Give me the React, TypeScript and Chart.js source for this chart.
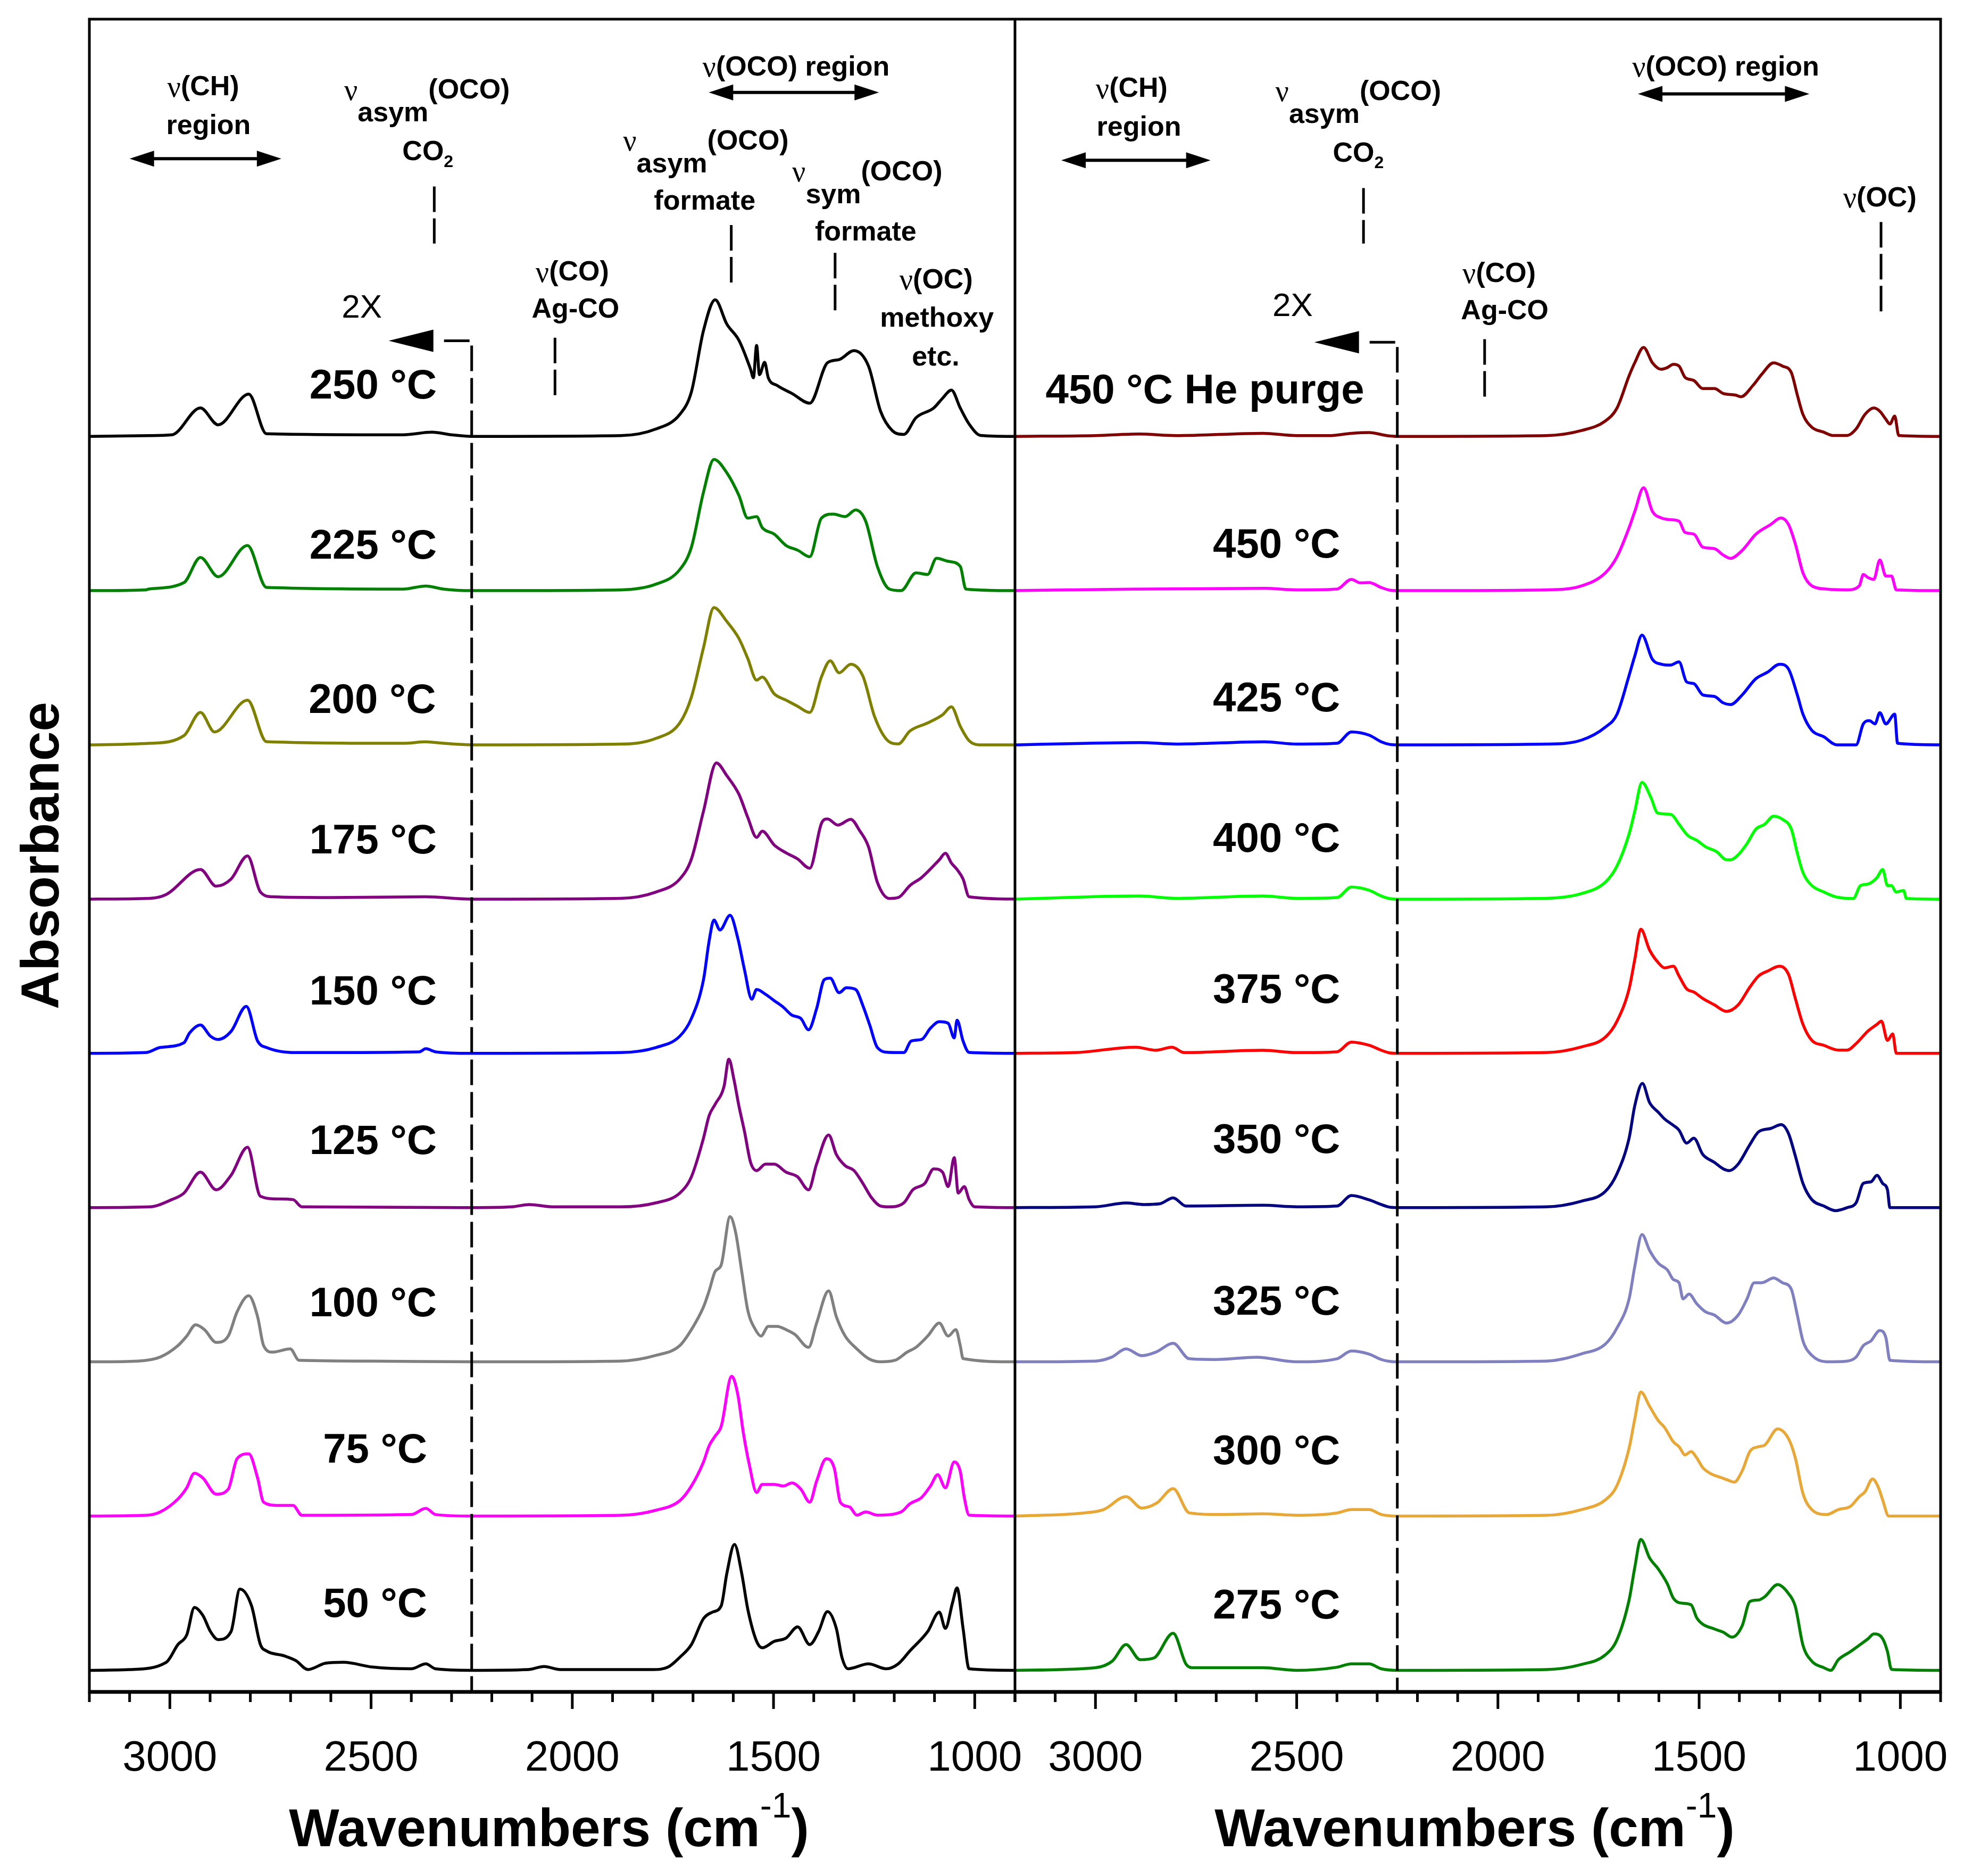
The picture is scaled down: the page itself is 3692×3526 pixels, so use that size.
import { useEffect, useRef } from 'react';
import { Chart } from 'chart.js/auto';

const FONT = "'Liberation Sans', Arial, sans-serif";
const SERIF = "'Liberation Serif', 'Times New Roman', serif";

// [wavenumber (cm-1), absorbance above own baseline]; one unit = spacing between stacked spectra
const T50: [number, number][] = [[3200,0],[3100,0.005],[3009,0.052],[2980,0.167],[2958,0.23],[2939,0.408],[2918,0.356],[2899,0.251],[2880,0.199],[2848,0.251],[2826,0.527],[2797,0.418],[2775,0.167],[2760,0.126],[2716,0.094],[2687,0.063],[2657,0.005],[2613,0.046],[2569,0.052],[2496,0.021],[2400,0.01],[2364,0.042],[2340,0.01],[2250,0],[2110,0.005],[2070,0.025],[2030,0.005],[1800,0.005],[1762,0.021],[1733,0.084],[1704,0.167],[1674,0.335],[1652,0.377],[1630,0.418],[1616,0.628],[1597,0.816],[1579,0.628],[1564,0.397],[1542,0.188],[1528,0.146],[1498,0.188],[1469,0.209],[1440,0.282],[1410,0.167],[1388,0.251],[1366,0.381],[1344,0.272],[1330,0.084],[1315,0.01],[1264,0.042],[1220,0.01],[1190,0.042],[1161,0.126],[1117,0.251],[1088,0.377],[1073,0.272],[1055,0.44],[1044,0.534],[1029,0.272],[1014,0.01],[900,0]];
const T75: [number, number][] = [[3200,0],[3060,0.005],[3024,0.027],[2980,0.111],[2958,0.184],[2939,0.278],[2918,0.247],[2885,0.142],[2855,0.174],[2833,0.372],[2804,0.404],[2782,0.247],[2767,0.09],[2731,0.069],[2694,0.069],[2672,0.005],[2400,0.01],[2364,0.05],[2340,0.01],[2250,0],[1880,0.005],[1792,0.038],[1733,0.1],[1704,0.195],[1674,0.351],[1660,0.456],[1645,0.519],[1630,0.582],[1604,0.906],[1589,0.791],[1575,0.54],[1560,0.331],[1542,0.153],[1528,0.205],[1498,0.205],[1476,0.195],[1454,0.215],[1432,0.174],[1410,0.09],[1393,0.226],[1369,0.372],[1349,0.31],[1334,0.09],[1311,0.059],[1293,0.006],[1271,0.027],[1242,0.006],[1183,0.027],[1161,0.08],[1132,0.121],[1110,0.195],[1092,0.268],[1073,0.184],[1051,0.351],[1036,0.289],[1026,0.121],[1014,0.006],[900,0]];
const T100: [number, number][] = [[3200,0],[3080,0.005],[3024,0.031],[2980,0.105],[2958,0.167],[2936,0.24],[2914,0.209],[2885,0.126],[2855,0.167],[2833,0.324],[2804,0.429],[2782,0.293],[2767,0.105],[2745,0.063],[2701,0.084],[2679,0.01],[2500,0.005],[2250,0],[1880,0.005],[1792,0.042],[1733,0.105],[1704,0.209],[1674,0.356],[1660,0.46],[1645,0.586],[1630,0.628],[1608,0.941],[1594,0.837],[1579,0.586],[1564,0.335],[1545,0.209],[1531,0.167],[1513,0.23],[1491,0.23],[1469,0.209],[1447,0.178],[1413,0.094],[1393,0.251],[1363,0.46],[1344,0.293],[1322,0.167],[1293,0.084],[1264,0.021],[1234,0],[1198,0.01],[1168,0.063],[1146,0.094],[1117,0.167],[1088,0.251],[1066,0.167],[1047,0.209],[1036,0.105],[1029,0.021],[900,0]];
const T125: [number, number][] = [[3200,0],[3050,0.005],[2995,0.052],[2965,0.094],[2924,0.23],[2885,0.115],[2848,0.209],[2807,0.391],[2775,0.073],[2731,0.056],[2694,0.052],[2672,0.005],[2250,0],[2150,0.005],[2107,0.02],[2050,0.005],[1880,0.005],[1792,0.031],[1733,0.094],[1704,0.2],[1674,0.45],[1660,0.596],[1645,0.67],[1623,0.785],[1611,0.962],[1598,0.826],[1586,0.659],[1572,0.492],[1557,0.293],[1542,0.24],[1520,0.282],[1498,0.282],[1469,0.23],[1440,0.199],[1413,0.115],[1393,0.282],[1363,0.471],[1344,0.345],[1322,0.272],[1300,0.24],[1278,0.157],[1256,0.063],[1234,0.01],[1212,0.005],[1176,0.031],[1154,0.115],[1124,0.157],[1102,0.251],[1080,0.23],[1066,0.136],[1051,0.324],[1041,0.094],[1026,0.136],[1014,0.052],[1000,0.005],[900,0]];
const T150: [number, number][] = [[3200,0],[3060,0.005],[3024,0.038],[2965,0.069],[2951,0.132],[2924,0.184],[2899,0.111],[2880,0.09],[2848,0.142],[2810,0.305],[2782,0.08],[2760,0.038],[2672,0.005],[2380,0.01],[2364,0.03],[2340,0.01],[2250,0],[1880,0.005],[1792,0.038],[1733,0.111],[1704,0.226],[1674,0.477],[1660,0.728],[1648,0.864],[1633,0.8],[1608,0.895],[1589,0.749],[1572,0.54],[1554,0.351],[1542,0.414],[1520,0.383],[1498,0.341],[1476,0.3],[1454,0.247],[1432,0.226],[1413,0.153],[1393,0.289],[1374,0.477],[1359,0.487],[1337,0.393],[1319,0.425],[1296,0.414],[1278,0.31],[1261,0.184],[1242,0.038],[1212,0.006],[1176,0.005],[1158,0.08],[1132,0.09],[1110,0.163],[1088,0.205],[1066,0.195],[1051,0.1],[1044,0.215],[1029,0.08],[1014,0.006],[900,0]];
const T175: [number, number][] = [[3200,0],[3050,0.005],[3009,0.03],[2924,0.192],[2885,0.084],[2848,0.13],[2807,0.28],[2775,0.046],[2745,0.015],[2600,0.01],[2364,0.015],[2250,0],[1880,0.005],[1792,0.046],[1733,0.13],[1704,0.26],[1674,0.57],[1642,0.883],[1616,0.8],[1586,0.68],[1564,0.53],[1542,0.4],[1528,0.44],[1498,0.35],[1469,0.3],[1440,0.26],[1410,0.2],[1381,0.49],[1366,0.52],[1340,0.48],[1308,0.517],[1286,0.444],[1264,0.339],[1242,0.109],[1212,0.004],[1190,0.01],[1161,0.088],[1132,0.14],[1088,0.255],[1073,0.297],[1058,0.234],[1044,0.192],[1029,0.13],[1014,0.015],[900,0]];
const T200: [number, number][] = [[3200,0],[3050,0.01],[2965,0.06],[2924,0.21],[2889,0.084],[2807,0.29],[2760,0.021],[2420,0.01],[2364,0.02],[2320,0.01],[2250,0],[1880,0.005],[1792,0.042],[1733,0.142],[1704,0.31],[1674,0.63],[1648,0.89],[1616,0.8],[1586,0.69],[1564,0.56],[1542,0.42],[1528,0.44],[1498,0.33],[1469,0.29],[1440,0.25],[1410,0.21],[1381,0.44],[1359,0.545],[1337,0.467],[1308,0.523],[1278,0.446],[1249,0.184],[1220,0.038],[1190,0.006],[1161,0.09],[1117,0.142],[1080,0.195],[1058,0.247],[1036,0.121],[1014,0.027],[990,0],[900,0]];
const T225: [number, number][] = [[3200,0],[3060,0.005],[3053,0.01],[2965,0.052],[2924,0.215],[2880,0.09],[2807,0.293],[2760,0.021],[2420,0.01],[2364,0.03],[2320,0.01],[2250,0],[1880,0.005],[1792,0.042],[1733,0.136],[1704,0.282],[1674,0.638],[1648,0.851],[1616,0.764],[1586,0.617],[1564,0.47],[1542,0.48],[1528,0.408],[1498,0.366],[1469,0.293],[1440,0.262],[1410,0.22],[1381,0.47],[1352,0.496],[1322,0.48],[1296,0.523],[1271,0.45],[1242,0.157],[1212,0.01],[1183,0],[1146,0.115],[1117,0.105],[1095,0.21],[1066,0.19],[1036,0.157],[1022,0.01],[900,0]];
const T250: [number, number][] = [[3200,0],[3050,0.005],[2995,0.01],[2924,0.184],[2880,0.075],[2804,0.274],[2760,0.017],[2420,0.01],[2349,0.027],[2300,0.01],[2250,0],[1880,0.005],[1792,0.048],[1733,0.142],[1704,0.289],[1674,0.686],[1645,0.885],[1616,0.728],[1586,0.623],[1557,0.435],[1550,0.38],[1542,0.59],[1535,0.4],[1522,0.48],[1513,0.38],[1491,0.33],[1454,0.278],[1410,0.215],[1366,0.477],[1337,0.498],[1300,0.556],[1264,0.456],[1234,0.163],[1205,0.038],[1176,0.013],[1146,0.121],[1102,0.184],[1080,0.247],[1058,0.3],[1036,0.184],[1014,0.08],[985,0.006],[900,0]];

const T275: [number, number][] = [[3200,0],[3000,0.017],[2958,0.06],[2924,0.167],[2889,0.069],[2855,0.08],[2807,0.24],[2775,0.04],[2760,0.017],[2584,0.017],[2500,0],[2400,0.02],[2364,0.042],[2320,0.042],[2290,0.01],[2250,0],[1880,0.005],[1792,0.038],[1733,0.1],[1704,0.199],[1674,0.456],[1660,0.665],[1645,0.849],[1623,0.728],[1601,0.655],[1579,0.561],[1564,0.467],[1542,0.435],[1520,0.425],[1506,0.341],[1491,0.299],[1462,0.268],[1440,0.247],[1418,0.215],[1393,0.289],[1374,0.446],[1352,0.456],[1337,0.477],[1305,0.556],[1278,0.498],[1261,0.414],[1242,0.163],[1220,0.059],[1190,0.017],[1173,0],[1154,0.069],[1124,0.121],[1102,0.163],[1080,0.205],[1066,0.236],[1044,0.205],[1032,0.121],[1022,0.006],[900,0]];
const T300: [number, number][] = [[3200,0],[3030,0.02],[2980,0.042],[2924,0.126],[2885,0.052],[2848,0.084],[2807,0.178],[2767,0.021],[2700,0.01],[2584,0.015],[2500,0.005],[2400,0.02],[2364,0.042],[2320,0.042],[2290,0.01],[2250,0],[1880,0.005],[1792,0.042],[1733,0.105],[1704,0.199],[1674,0.44],[1660,0.628],[1645,0.805],[1623,0.711],[1601,0.617],[1586,0.575],[1564,0.481],[1550,0.45],[1535,0.397],[1520,0.418],[1506,0.377],[1491,0.314],[1469,0.272],[1447,0.251],[1425,0.23],[1413,0.22],[1393,0.293],[1374,0.418],[1352,0.45],[1337,0.46],[1305,0.565],[1278,0.502],[1261,0.377],[1242,0.146],[1220,0.042],[1183,0.01],[1154,0.042],[1124,0.063],[1102,0.126],[1088,0.157],[1069,0.241],[1055,0.188],[1044,0.105],[1029,0],[900,0]];
const T325: [number, number][] = [[3200,0],[3000,0.005],[2960,0.03],[2924,0.084],[2885,0.04],[2850,0.063],[2807,0.12],[2767,0.02],[2700,0.015],[2600,0.03],[2500,0],[2400,0.02],[2364,0.07],[2320,0.05],[2290,0.015],[2269,0.003],[2250,0],[1880,0.005],[1792,0.052],[1733,0.115],[1704,0.22],[1674,0.408],[1660,0.617],[1642,0.826],[1623,0.722],[1601,0.638],[1579,0.596],[1564,0.533],[1550,0.513],[1540,0.408],[1525,0.439],[1506,0.377],[1484,0.324],[1462,0.303],[1432,0.251],[1403,0.303],[1381,0.408],[1363,0.513],[1344,0.513],[1315,0.544],[1293,0.513],[1271,0.471],[1256,0.303],[1242,0.136],[1220,0.042],[1183,0],[1132,0.005],[1110,0.031],[1092,0.105],[1073,0.136],[1051,0.203],[1036,0.157],[1026,0.01],[900,0]];
const T350: [number, number][] = [[3200,0],[3000,0.005],[2924,0.03],[2880,0.02],[2840,0.025],[2807,0.063],[2775,0.01],[2584,0.015],[2500,0.005],[2400,0.01],[2364,0.078],[2320,0.05],[2290,0.02],[2269,0.003],[2250,0],[1880,0.005],[1792,0.042],[1733,0.105],[1704,0.22],[1674,0.45],[1660,0.659],[1641,0.805],[1623,0.68],[1601,0.617],[1586,0.575],[1564,0.533],[1550,0.502],[1531,0.418],[1513,0.45],[1491,0.345],[1462,0.293],[1440,0.251],[1425,0.24],[1403,0.282],[1374,0.408],[1352,0.492],[1322,0.513],[1296,0.538],[1278,0.481],[1261,0.335],[1242,0.157],[1220,0.052],[1190,0.01],[1161,-0.02],[1132,0],[1110,0.031],[1092,0.157],[1073,0.167],[1058,0.209],[1044,0.157],[1032,0.115],[1026,0],[900,0]];
const T375: [number, number][] = [[3200,0],[3050,0.005],[2900,0.04],[2850,0.02],[2810,0.04],[2780,0.005],[2584,0.02],[2500,0.005],[2400,0.01],[2364,0.073],[2320,0.052],[2290,0.02],[2269,0.003],[2250,0],[1880,0.005],[1792,0.042],[1733,0.105],[1704,0.209],[1674,0.418],[1660,0.607],[1645,0.805],[1623,0.669],[1601,0.586],[1586,0.554],[1564,0.565],[1550,0.502],[1531,0.418],[1513,0.397],[1491,0.356],[1462,0.314],[1432,0.272],[1403,0.314],[1374,0.429],[1352,0.502],[1330,0.533],[1300,0.565],[1278,0.513],[1261,0.356],[1242,0.188],[1220,0.084],[1190,0.052],[1154,0.021],[1132,0.021],[1110,0.063],[1080,0.146],[1058,0.188],[1047,0.209],[1032,0.084],[1019,0.126],[1010,0],[900,0]];
const T400: [number, number][] = [[3200,0],[2890,0.02],[2800,0.005],[2584,0.02],[2500,0.005],[2400,0.01],[2364,0.078],[2320,0.057],[2290,0.02],[2269,0.003],[2250,0],[1880,0.005],[1792,0.036],[1733,0.11],[1704,0.215],[1674,0.423],[1660,0.569],[1642,0.757],[1619,0.653],[1604,0.559],[1586,0.552],[1569,0.548],[1550,0.485],[1528,0.412],[1506,0.381],[1484,0.339],[1457,0.308],[1432,0.255],[1422,0.255],[1403,0.287],[1381,0.36],[1359,0.454],[1337,0.485],[1315,0.538],[1293,0.517],[1271,0.454],[1256,0.297],[1242,0.172],[1220,0.088],[1190,0.046],[1161,0.015],[1117,0.004],[1099,0.088],[1080,0.098],[1058,0.14],[1044,0.192],[1032,0.088],[1022,0.088],[1011,0.046],[992,0.056],[985,0.004],[900,0]];
const T425: [number, number][] = [[3200,0],[2890,0.015],[2800,0.005],[2580,0.02],[2500,0.005],[2400,0.01],[2364,0.084],[2320,0.063],[2290,0.02],[2269,0.003],[2250,0],[1880,0.005],[1792,0.031],[1733,0.115],[1704,0.199],[1674,0.45],[1660,0.575],[1642,0.711],[1616,0.554],[1594,0.523],[1572,0.517],[1550,0.538],[1531,0.408],[1513,0.397],[1491,0.324],[1462,0.314],[1440,0.272],[1422,0.261],[1393,0.324],[1359,0.429],[1330,0.471],[1300,0.523],[1278,0.492],[1256,0.324],[1242,0.199],[1220,0.094],[1190,0.052],[1158,0],[1110,0],[1092,0.136],[1077,0.157],[1063,0.136],[1051,0.209],[1036,0.136],[1014,0.199],[1007,0.01],[900,0]];
const T450: [number, number][] = [[3200,0],[2900,0.01],[2580,0.015],[2500,0.005],[2400,0.01],[2364,0.073],[2342,0.05],[2320,0.052],[2290,0.02],[2269,0.003],[2250,0],[1880,0.005],[1792,0.031],[1733,0.115],[1704,0.22],[1674,0.408],[1660,0.513],[1638,0.667],[1616,0.513],[1594,0.471],[1572,0.46],[1550,0.45],[1535,0.377],[1513,0.366],[1491,0.282],[1462,0.272],[1440,0.23],[1422,0.209],[1393,0.261],[1359,0.366],[1322,0.429],[1297,0.471],[1278,0.429],[1261,0.303],[1242,0.115],[1220,0.031],[1183,0.01],[1132,0.005],[1102,0.031],[1092,0.105],[1080,0.084],[1066,0.073],[1051,0.199],[1036,0.094],[1022,0.094],[1010,0.005],[900,0]];
const T450HE: [number, number][] = [[3200,0],[3000,0.005],[2892,0.015],[2800,0.005],[2584,0.02],[2500,0.005],[2420,0.005],[2364,0.02],[2320,0.025],[2276,0.005],[2250,0],[1880,0.005],[1792,0.038],[1733,0.1],[1704,0.184],[1674,0.393],[1660,0.477],[1638,0.577],[1616,0.477],[1594,0.435],[1579,0.446],[1564,0.467],[1550,0.456],[1535,0.383],[1513,0.362],[1491,0.31],[1462,0.31],[1440,0.278],[1410,0.268],[1396,0.257],[1366,0.331],[1344,0.404],[1315,0.477],[1293,0.456],[1271,0.414],[1256,0.268],[1242,0.142],[1220,0.059],[1190,0.027],[1168,0.006],[1132,0.006],[1110,0.048],[1088,0.142],[1066,0.184],[1051,0.163],[1036,0.111],[1026,0.08],[1014,0.132],[1004,0.006],[900,0]];

// stacking order: bottom to top
const LEFT_SERIES = [T50, T75, T100, T125, T150, T175, T200, T225, T250];
const LEFT_NAMES = ['50 °C', '75 °C', '100 °C', '125 °C', '150 °C', '175 °C', '200 °C', '225 °C', '250 °C'];
const LEFT_COLORS = ['#000000', '#ff00ff', '#808080', '#800080', '#0000ff', '#800080', '#808000', '#008000', '#000000'];
const RIGHT_SERIES = [T275, T300, T325, T350, T375, T400, T425, T450, T450HE];
const RIGHT_NAMES = ['275 °C', '300 °C', '325 °C', '350 °C', '375 °C', '400 °C', '425 °C', '450 °C', '450 °C He purge'];
const RIGHT_COLORS = ['#008000', '#e8a838', '#8080c0', '#000080', '#ff0000', '#00ff00', '#0000ff', '#ff00ff', '#800000'];
const OFFSETS = [0.14, 1.14, 2.14, 3.14, 4.14, 5.14, 6.14, 7.14, 8.14];

// label anchors [wavenumber, y]
const LEFT_LABEL_POS: [number, number][] = [[2490, 0.56], [2490, 1.56], [2495, 2.51], [2495, 3.56], [2495, 4.53], [2495, 5.51], [2497, 6.42], [2495, 7.42], [2495, 8.46]];
const RIGHT_LABEL_POS: [number, number][] = [[2550, 0.55], [2550, 1.55], [2550, 2.52], [2550, 3.57], [2550, 4.54], [2550, 5.52], [2550, 6.43], [2550, 7.43], [2728, 8.43]];

const X_MIN = 900;
const X_MAX = 3200;
const X_TICKS = [3000, 2500, 2000, 1500, 1000];
const Y_MAX = 10.845;
const SCALE_2X = 2250;

type Part = { t: string; sub?: boolean; tiny?: boolean; greek?: boolean };
type Note = { axis: string; w: number; y: number; parts: Part[] };
const NU: Part = { t: 'ν', greek: true };
const NOTES: Note[] = [
  { axis: 'x1', w: 2917, y: 10.40, parts: [NU, { t: '(CH)' }] },
  { axis: 'x1', w: 2904, y: 10.15, parts: [{ t: 'region' }] },
  { axis: 'x1', w: 2361, y: 10.38, parts: [NU, { t: 'asym', sub: true }, { t: '(OCO)' }] },
  { axis: 'x1', w: 2359, y: 9.98, parts: [{ t: 'CO' }, { t: '2', tiny: true }] },
  { axis: 'x1', w: 1444, y: 10.53, parts: [NU, { t: '(OCO) region' }] },
  { axis: 'x1', w: 1668, y: 10.05, parts: [NU, { t: 'asym', sub: true }, { t: '(OCO)' }] },
  { axis: 'x1', w: 1671, y: 9.66, parts: [{ t: 'formate' }] },
  { axis: 'x1', w: 1267, y: 9.85, parts: [NU, { t: 'sym', sub: true }, { t: '(OCO)' }] },
  { axis: 'x1', w: 1271, y: 9.46, parts: [{ t: 'formate' }] },
  { axis: 'x1', w: 2000, y: 9.20, parts: [NU, { t: '(CO)' }] },
  { axis: 'x1', w: 1992, y: 8.96, parts: [{ t: 'Ag-CO' }] },
  { axis: 'x1', w: 1096, y: 9.15, parts: [NU, { t: '(OC)' }] },
  { axis: 'x1', w: 1094, y: 8.90, parts: [{ t: 'methoxy' }] },
  { axis: 'x1', w: 1097, y: 8.65, parts: [{ t: 'etc.' }] },
  { axis: 'x2', w: 2910, y: 10.39, parts: [NU, { t: '(CH)' }] },
  { axis: 'x2', w: 2892, y: 10.14, parts: [{ t: 'region' }] },
  { axis: 'x2', w: 2347, y: 10.37, parts: [NU, { t: 'asym', sub: true }, { t: '(OCO)' }] },
  { axis: 'x2', w: 2347, y: 9.97, parts: [{ t: 'CO' }, { t: '2', tiny: true }] },
  { axis: 'x2', w: 1434, y: 10.53, parts: [NU, { t: '(OCO) region' }] },
  { axis: 'x2', w: 1051, y: 9.68, parts: [NU, { t: '(OC)' }] },
  { axis: 'x2', w: 1997, y: 9.19, parts: [NU, { t: '(CO)' }] },
  { axis: 'x2', w: 1983, y: 8.95, parts: [{ t: 'Ag-CO' }] },
];

// short dashed markers: axis, wavenumber, y top, y bottom
const MARKS: [string, number, number, number][] = [
  ['x1', 2343, 9.76, 9.39], ['x1', 1605, 9.51, 9.13], ['x1', 1347, 9.33, 8.95], ['x1', 2043, 8.78, 8.39],
  ['x2', 2334, 9.75, 9.39], ['x2', 1048, 9.53, 8.91], ['x2', 2033, 8.77, 8.38],
];
// double arrows: axis, from, to, y
const SPANS: [string, number, number, number][] = [
  ['x1', 3100, 2723, 9.94], ['x1', 1661, 1238, 10.37],
  ['x2', 3085, 2714, 9.93], ['x2', 1652, 1226, 10.36],
];
// 2X markers: axis, y of the bend, label wavenumber, label y
const TWOX: [string, number, number, number][] = [['x1', 8.76, 2523, 8.97], ['x2', 8.75, 2510, 8.98]];

function drawRich(ctx: CanvasRenderingContext2D, cx: number, cy: number, parts: Part[]) {
  const fontOf = (p: Part) => (p.greek ? `56px ${SERIF}` : `bold ${p.tiny ? 32 : 52}px ${FONT}`);
  const widths = parts.map((p) => { ctx.font = fontOf(p); return ctx.measureText(p.t).width; });
  let x = cx - widths.reduce((a, b) => a + b, 0) / 2;
  parts.forEach((p, i) => {
    ctx.font = fontOf(p);
    ctx.fillText(p.t, x, cy + (p.sub ? 43 : p.tiny ? 18 : p.greek ? 2 : 0));
    x += widths[i];
  });
}

function arrowHead(ctx: CanvasRenderingContext2D, tipX: number, y: number, dir: number, len: number, half: number) {
  ctx.beginPath();
  ctx.moveTo(tipX, y);
  ctx.lineTo(tipX - dir * len, y - half);
  ctx.lineTo(tipX - dir * len, y + half);
  ctx.closePath();
  ctx.fill();
}

const decorPlugin = {
  id: 'decor',
  afterDraw(chart: Chart) {
    const { ctx, chartArea: a, scales } = chart;
    const ys = scales['y'];
    ctx.save();
    ctx.fillStyle = '#000';
    ctx.strokeStyle = '#000';
    ctx.lineCap = 'butt';

    // frame
    ctx.lineWidth = 5;
    ctx.strokeRect(a.left, a.top, a.right - a.left, a.bottom - a.top);
    ctx.beginPath();
    ctx.moveTo(scales['x1'].right, a.top);
    ctx.lineTo(scales['x1'].right, a.bottom);
    ctx.stroke();
    ctx.lineWidth = 7;
    ctx.beginPath();
    ctx.moveTo(a.left - 2, a.bottom);
    ctx.lineTo(a.right + 2, a.bottom);
    ctx.stroke();

    // tick marks, minor every 100
    ctx.lineWidth = 5;
    for (const id of ['x1', 'x2']) {
      const s = scales[id];
      for (let v = X_MIN; v <= X_MAX; v += 100) {
        const px = s.getPixelForValue(v);
        ctx.beginPath();
        ctx.moveTo(px, a.bottom);
        ctx.lineTo(px, a.bottom + (v % 500 === 0 ? 32 : 19));
        ctx.stroke();
      }
    }

    // 2X regions
    for (const [id, yb, lw, ly] of TWOX) {
      const s = scales[id];
      const px = s.getPixelForValue(SCALE_2X);
      const py = ys.getPixelForValue(yb);
      ctx.setLineDash([48, 13]);
      ctx.beginPath();
      ctx.moveTo(px - 52, py);
      ctx.lineTo(px, py);
      ctx.lineTo(px, a.bottom);
      ctx.stroke();
      ctx.setLineDash([]);
      arrowHead(ctx, px - 156, py, -1, 84, 21);
      ctx.font = `62px ${FONT}`;
      ctx.textAlign = 'center';
      ctx.textBaseline = 'middle';
      ctx.fillText('2X', s.getPixelForValue(lw), ys.getPixelForValue(ly));
    }

    // short dashed markers
    ctx.setLineDash([48, 12]);
    for (const [id, w, y1, y2] of MARKS) {
      const px = scales[id].getPixelForValue(w);
      ctx.beginPath();
      ctx.moveTo(px, ys.getPixelForValue(y1));
      ctx.lineTo(px, ys.getPixelForValue(y2));
      ctx.stroke();
    }
    ctx.setLineDash([]);

    // region arrows
    for (const [id, w1, w2, y] of SPANS) {
      const s = scales[id];
      const x1 = s.getPixelForValue(w1);
      const x2 = s.getPixelForValue(w2);
      const py = ys.getPixelForValue(y);
      ctx.lineWidth = 6;
      ctx.beginPath();
      ctx.moveTo(x1 + 30, py);
      ctx.lineTo(x2 - 30, py);
      ctx.stroke();
      arrowHead(ctx, x1, py, -1, 46, 15);
      arrowHead(ctx, x2, py, 1, 46, 15);
    }

    // annotation texts
    ctx.textAlign = 'left';
    ctx.textBaseline = 'middle';
    for (const n of NOTES) {
      drawRich(ctx, scales[n.axis].getPixelForValue(n.w), ys.getPixelForValue(n.y), n.parts);
    }

    // temperature labels
    ctx.textAlign = 'center';
    ctx.font = `bold 78px ${FONT}`;
    LEFT_NAMES.forEach((t, i) => {
      ctx.fillText(t, scales['x1'].getPixelForValue(LEFT_LABEL_POS[i][0]), ys.getPixelForValue(LEFT_LABEL_POS[i][1]));
    });
    RIGHT_NAMES.forEach((t, i) => {
      ctx.fillText(t, scales['x2'].getPixelForValue(RIGHT_LABEL_POS[i][0]), ys.getPixelForValue(RIGHT_LABEL_POS[i][1]));
    });

    // x axis titles with superscript
    ctx.textAlign = 'left';
    ctx.textBaseline = 'alphabetic';
    for (const id of ['x1', 'x2']) {
      const s = scales[id];
      const cx = (s.left + s.right) / 2 - 6;
      const base = 3470;
      const main = 'Wavenumbers (cm';
      ctx.font = `bold 100px ${FONT}`;
      const wm = ctx.measureText(main).width;
      const wc = ctx.measureText(')').width;
      ctx.font = `66px ${FONT}`;
      const ws = ctx.measureText('-1').width;
      let x = cx - (wm + ws + wc) / 2;
      ctx.font = `bold 100px ${FONT}`;
      ctx.fillText(main, x, base);
      x += wm;
      ctx.font = `66px ${FONT}`;
      ctx.fillText('-1', x, base - 54);
      x += ws;
      ctx.font = `bold 100px ${FONT}`;
      ctx.fillText(')', x, base);
    }
    ctx.restore();
  },
};

function xAxis() {
  return {
    type: 'linear' as const,
    position: 'bottom' as const,
    stack: 'wn',
    stackWeight: 1,
    reverse: true,
    min: X_MIN,
    max: X_MAX,
    afterBuildTicks: (s: { ticks: { value: number }[] }) => {
      s.ticks = X_TICKS.map((v) => ({ value: v }));
    },
    afterFit: (s: { height: number; paddingLeft: number; paddingRight: number }) => {
      s.height = 346;
      s.paddingLeft = 0;
      s.paddingRight = 0;
    },
    grid: { display: false, drawTicks: true, tickLength: 32 },
    border: { display: false },
    ticks: {
      autoSkip: false,
      maxRotation: 0,
      padding: 46,
      color: '#000',
      font: { family: FONT, size: 80 },
      callback: (v: number | string) => String(v),
    },
  };
}

export default function App() {
  const canvasRef = useRef<HTMLCanvasElement>(null);

  useEffect(() => {
    document.body.style.margin = '0';
    if (!canvasRef.current) return;
    const mk = (series: [number, number][][], colors: string[], names: string[], axis: string) =>
      series.map((s, i) => ({
        label: names[i],
        data: s.map(([w, h]) => ({ x: w, y: h + OFFSETS[i] })),
        xAxisID: axis,
        yAxisID: 'y',
        borderColor: colors[i],
        borderWidth: 5.5,
        pointRadius: 0,
        fill: false,
        cubicInterpolationMode: 'monotone' as const,
      }));
    const chart = new Chart(canvasRef.current, {
      type: 'line',
      data: {
        datasets: [
          ...mk(LEFT_SERIES, LEFT_COLORS, LEFT_NAMES, 'x1'),
          ...mk(RIGHT_SERIES, RIGHT_COLORS, RIGHT_NAMES, 'x2'),
        ],
      },
      options: {
        animation: false,
        responsive: true,
        maintainAspectRatio: false,
        devicePixelRatio: 1,
        parsing: false,
        layout: { padding: { left: 22, top: 36, right: 44, bottom: 0 } },
        plugins: { legend: { display: false }, tooltip: { enabled: false } },
        scales: {
          x1: xAxis(),
          x2: xAxis(),
          y: {
            type: 'linear',
            position: 'left',
            min: 0,
            max: Y_MAX,
            afterFit: (s) => { s.width = 146; },
            grid: { display: false, drawTicks: false },
            border: { display: false },
            ticks: { display: false },
            title: {
              display: true,
              text: 'Absorbance',
              color: '#000',
              padding: 0,
              font: { family: FONT, size: 100, weight: 'bold' },
            },
          },
        },
      },
      plugins: [decorPlugin],
    });
    return () => { chart.destroy(); };
  }, []);

  return (
    <div style={{ position: 'relative', width: 3692, height: 3526, background: '#fff' }}>
      <canvas ref={canvasRef} />
    </div>
  );
}
